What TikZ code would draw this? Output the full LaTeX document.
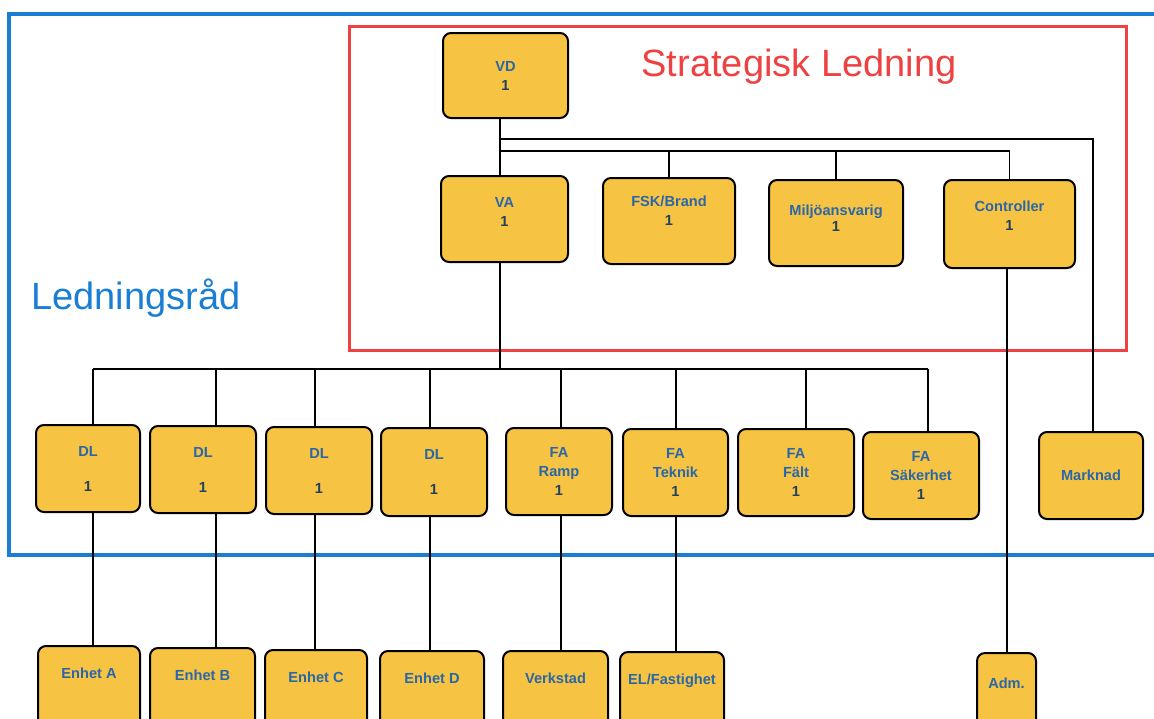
\documentclass[tikz,border=0pt]{standalone}
\usepackage{fontspec}
\setmainfont{Liberation Sans}
\definecolor{frameblue}{HTML}{1A7FD4}
\definecolor{framered}{HTML}{EE4242}
\definecolor{boxfill}{HTML}{F6C343}
\definecolor{labelblue}{HTML}{2B67A6}
\definecolor{numcol}{HTML}{23415F}
\tikzset{
  box/.style={draw=black, line width=1pt, fill=boxfill, rounded corners=4pt,
    align=center, inner sep=0pt, text=labelblue,
    font=\bfseries\fontsize{7.3}{9.5}\selectfont},
  lowbox/.style={box, anchor=north, minimum height=50pt, text depth=23pt},
  conn/.style={draw=black, line width=0.75pt},
  title/.style={font=\fontsize{19}{22}\selectfont, inner sep=0pt}
}
\newcommand{\num}{\textcolor{numcol}{1}}
\begin{document}
\begin{tikzpicture}[x=0.5pt, y=-0.5pt]
\useasboundingbox (0,0) rectangle (1154,718);
\fill[white] (0,0) rectangle (1154,718);
% frames
\draw[frameblue, line width=2pt] (1170,14) -- (9,14) -- (9,555) -- (1170,555);
\draw[framered, line width=1.5pt] (349,26) rectangle (1126,350);
\node[title, text=framered] (strat) at (799,67) {Strategisk Ledning};
\node[title, text=frameblue] (ledr) at (136,298) {Ledningsråd};
% top level
\node[box, minimum width=62.5pt, minimum height=42.5pt] (vd) at (505.5,75.5) {VD\\\num};
\node[box, minimum width=63.5pt, minimum height=43pt] (va) at (504.5,219) {VA\\\num\\[-2.5pt]};
\node[box, minimum width=66pt, minimum height=43pt] (fsk) at (669,221) {FSK/Brand\\\num\\[0.5pt]};
\node[box, minimum width=67pt, minimum height=43pt] (milj) at (836,223) {Miljöansvarig\\[-1.5pt]\num\\[-4.5pt]};
\node[box, minimum width=65.5pt, minimum height=44pt] (ctrl) at (1009.5,224) {Controller\\\num\\[-1.5pt]};
% middle row
\node[box, minimum width=52pt, minimum height=43.5pt] (dl1) at (88,468.5) {DL\\[8pt]\num};
\node[box, minimum width=53pt, minimum height=43.5pt] (dl2) at (203,469.5) {DL\\[8pt]\num};
\node[box, minimum width=53pt, minimum height=43.5pt] (dl3) at (319,470.5) {DL\\[8pt]\num};
\node[box, minimum width=53pt, minimum height=44pt] (dl4) at (434,472) {DL\\[8pt]\num};
\node[box, minimum width=53pt, minimum height=43.5pt] (ramp) at (559,471.5) {FA\\Ramp\\\num};
\node[box, minimum width=52.5pt, minimum height=43.5pt] (tek) at (675.5,472.5) {FA\\Teknik\\\num};
\node[box, minimum width=58pt, minimum height=43.5pt] (falt) at (796,472.5) {FA\\Fält\\\num};
\node[box, minimum width=58pt, minimum height=43.5pt] (sak) at (921,475.5) {FA\\Säkerhet\\\num};
\node[box, minimum width=52pt, minimum height=43.5pt] (mark) at (1091,475.5) {Marknad};
% bottom row
\node[lowbox, minimum width=51pt] (ea) at (89,645) {Enhet A};
\node[lowbox, minimum width=52.5pt] (eb) at (202.5,647) {Enhet B};
\node[lowbox, minimum width=51pt] (ec) at (316,649) {Enhet C};
\node[lowbox, minimum width=52pt] (ed) at (432,650) {Enhet D};
\node[lowbox, minimum width=52.5pt] (verk) at (555.5,650) {Verkstad};
\node[lowbox, minimum width=52pt] (elf) at (672,651) {EL/Fastighet};
\node[lowbox, minimum width=29.5pt, text depth=20pt] (adm) at (1006.5,652) {Adm.};
% bus coordinates
\coordinate (b1) at (500,139);
\coordinate (b2) at (500,151);
\coordinate (b3) at (500,369);
\coordinate (c1) at (93,369);
\coordinate (c2) at (216,369);
\coordinate (c3) at (315,369);
\coordinate (c4) at (430,369);
\coordinate (c5) at (561,369);
\coordinate (c6) at (676,369);
\coordinate (c7) at (806,369);
\coordinate (c8) at (928,369);
\coordinate (c9) at (1007,369);
\coordinate (c10) at (1093,139);
% connectors top
\draw[conn] (b1 |- vd.south) -- (b1 |- va.north);
\draw[conn] (b1) -- (c10) -- (c10 |- mark.north);
\draw[conn] (b2) -| (ctrl.north);
\draw[conn] (fsk.north) -- (fsk.north |- b2);
\draw[conn] (milj.north) -- (milj.north |- b2);
% connectors to middle row
\draw[conn] (b3 |- va.south) -- (b3);
\draw[conn] (c1) -- (c8);
\draw[conn] (c1) -- (c1 |- dl1.north);
\draw[conn] (c2) -- (c2 |- dl2.north);
\draw[conn] (c3) -- (c3 |- dl3.north);
\draw[conn] (c4) -- (c4 |- dl4.north);
\draw[conn] (c5) -- (c5 |- ramp.north);
\draw[conn] (c6) -- (c6 |- tek.north);
\draw[conn] (c7) -- (c7 |- falt.north);
\draw[conn] (c8) -- (c8 |- sak.north);
% connectors to bottom row
\draw[conn] (c1 |- dl1.south) -- (c1 |- ea.north);
\draw[conn] (c2 |- dl2.south) -- (c2 |- eb.north);
\draw[conn] (c3 |- dl3.south) -- (c3 |- ec.north);
\draw[conn] (c4 |- dl4.south) -- (c4 |- ed.north);
\draw[conn] (c5 |- ramp.south) -- (c5 |- verk.north);
\draw[conn] (c6 |- tek.south) -- (c6 |- elf.north);
\draw[conn] (c9 |- ctrl.south) -- (c9 |- adm.north);
\end{tikzpicture}
\end{document}
